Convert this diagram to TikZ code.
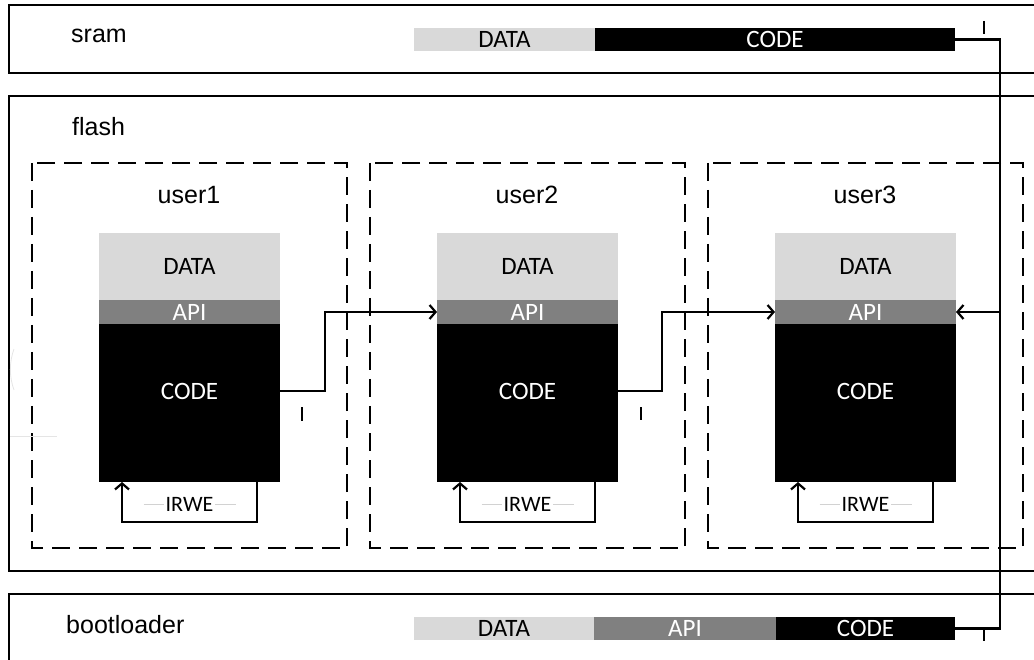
\documentclass[tikz,border=0pt]{standalone}
\usepackage{fontspec}
\setmainfont{Liberation Sans}
\newfontfamily\calfont{Carlito}
\usetikzlibrary{positioning,arrows.meta}
\definecolor{datagray}{HTML}{D9D9D9}
\definecolor{apigray}{HTML}{808080}
\tikzset{
	membox/.style={draw, line width=1.5pt},
	userbox/.style={draw, line width=2.6pt, dash pattern=on 18pt off 9pt},
	seg/.style={inner sep=0pt, outer sep=0pt,
		font=\calfont\fontsize{25}{27}\selectfont},
	dataseg/.style={seg, fill=datagray, text=black},
	apiseg/.style={seg, fill=apigray, text=white},
	codeseg/.style={seg, fill=black, text=white},
	link/.style={line width=2.2pt, -{Straight Barb[length=6pt,width=14pt]}},
	lbl/.style={inner sep=0pt, font=\fontsize{25}{28}\selectfont},
}

\begin{document}
\begin{tikzpicture}[x=1pt,y=-1pt]
\useasboundingbox (0,0) rectangle (1034,660);
\clip (0,0) rectangle (1034,660);

% memory regions
\draw[membox] (9,5) rectangle (1045,73);
\draw[membox] (9,96) rectangle (1045,571);
\draw[membox] (9,594) rectangle (1045,675);
\node[lbl, anchor=mid west] (sram) at (71,40) {sram};
\node[lbl, anchor=mid west] (flash) at (72,133) {flash};
\node[lbl, anchor=mid west] (boot) at (66,631) {bootloader};

% sram bar
\node[dataseg, minimum width=181pt, minimum height=23pt, anchor=north west]
	(sdata) at (414,28) {DATA};
\node[codeseg, minimum width=360pt, minimum height=23pt,
	right=0pt of sdata] (scode) {CODE};

% bootloader bar
\node[dataseg, minimum width=180pt, minimum height=23pt, anchor=north west]
	(bdata) at (414,617) {DATA};
\node[apiseg, minimum width=182pt, minimum height=23pt,
	right=0pt of bdata] (bapi) {API};
\node[codeseg, minimum width=179pt, minimum height=23pt,
	right=0pt of bapi] (bcode) {CODE};

% user areas
\foreach \i/\x in {1/99,
			2/437,
				3/775}
{
\draw[userbox] (\x-67,163) rectangle (\x+248,548);
\node[lbl, anchor=mid] (user\i) at (\x+90,201) {user\i};
\node[dataseg, minimum width=181pt, minimum height=67pt, anchor=north west]
	(data\i) at (\x,233) {DATA};
\node[apiseg, minimum width=181pt, minimum height=24pt,
	below=0pt of data\i] (api\i) {API};
\node[codeseg, minimum width=181pt, minimum height=158pt,
	below=0pt of api\i,
	label={[seg, text=white, yshift=12pt]center:CODE}] (code\i) {};
\draw[link] ([xshift=-23pt]code\i.south east) -- ++(0,40)
	-| ([xshift=23pt]code\i.south west);
\draw[gray!35, line width=0.8pt] ([xshift=-46pt,yshift=-22pt]code\i.south)
	-- ++(92,0);
\node[fill=white, inner sep=2pt, font=\calfont\fontsize{22}{24}\selectfont]
	(irwe\i) at ([yshift=-22pt]code\i.south) {IRWE};
}

% calls between users
\draw[link] ([yshift=12pt]code1.east) -- ++(45,0) |- (api2.west);
\draw[link] ([yshift=12pt]code2.east) -- ++(44,0) |- (api3.west);

% bus from sram to bootloader
\path (api3.east) ++(44,0) coordinate (bus);
\draw[line width=2.2pt] (scode.east) -| (bus) |- (bcode.east);
\draw[link] (bus) -- (api3.east);

% small marks
\draw[line width=1.3pt] (984,21) -- (984,34);
\draw[line width=1.3pt] (984,628) -- (984,641);
\draw[line width=1.3pt] (302,407) -- (302,421);
\draw[line width=1.3pt] (641,407) -- (641,420);
\draw[gray!20, line width=0.8pt] (10,436) -- (57,436);
\draw[gray!20, line width=0.8pt] (14,390) arc[start angle=160, end angle=200, radius=60];
\end{tikzpicture}
\end{document}
